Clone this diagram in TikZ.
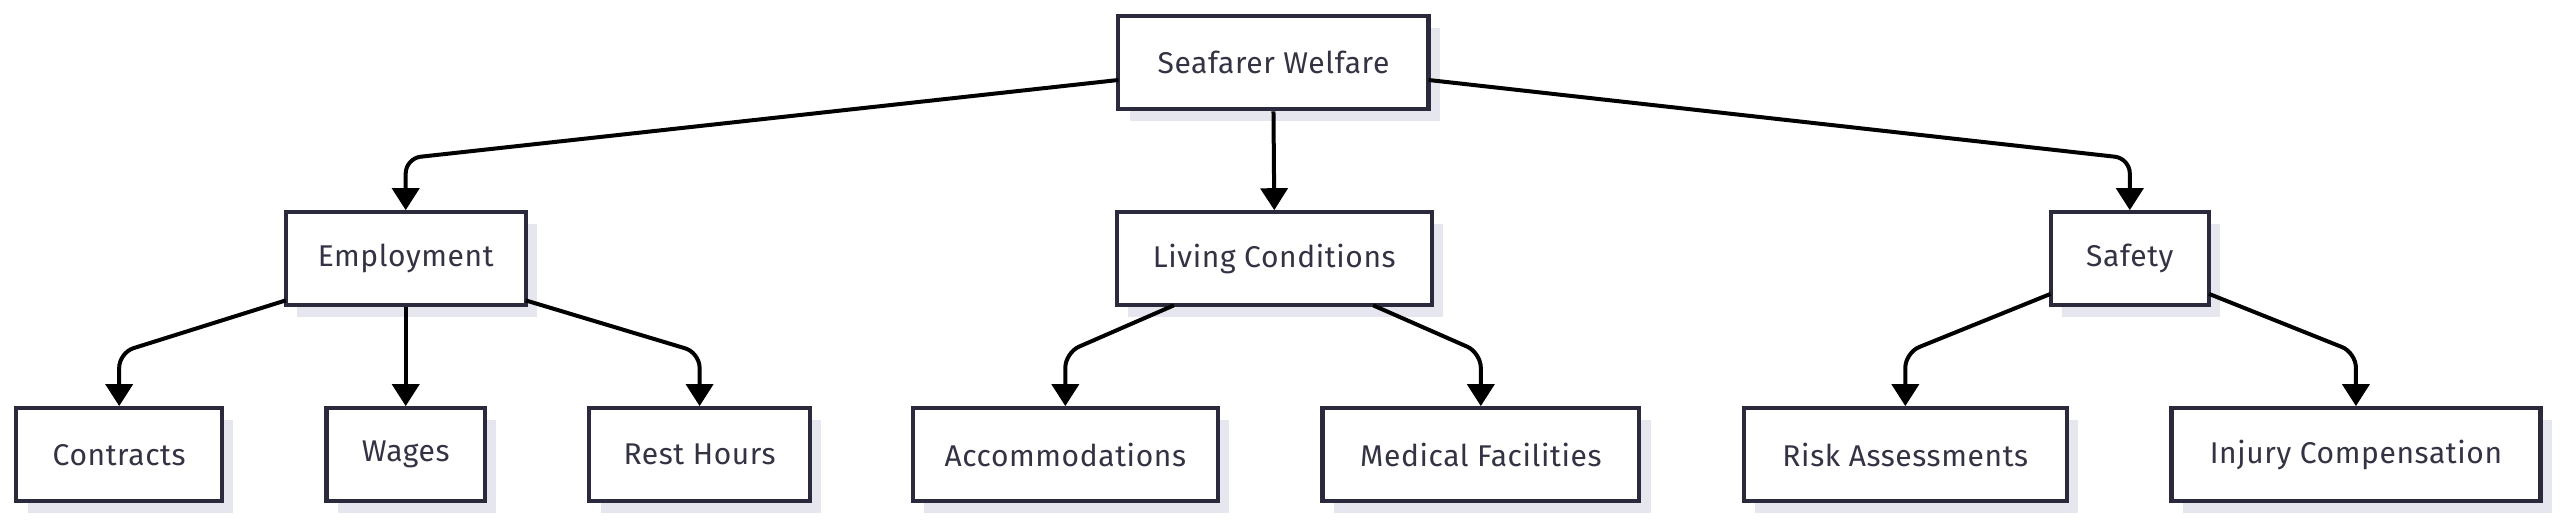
\documentclass[tikz,border=0pt]{standalone}
\usepackage{fontspec}
\setmainfont{Fira Sans}
\usetikzlibrary{arrows.meta}
\definecolor{bordc}{HTML}{2B2A3C}
\definecolor{txtc}{HTML}{333344}
\definecolor{shad}{HTML}{E6E6EF}
\begin{document}
\begin{tikzpicture}[x=1.633pt,y=-1.633pt,
  box/.style={draw=bordc,line width=4.2pt,fill=white,minimum height=93pt,inner xsep=0pt,
    text=txtc,font=\fontsize{30}{36}\selectfont\addfontfeatures{LetterSpace=2}},
  conn/.style={line width=4pt,black,rounded corners=15pt,-{Triangle[length=22pt,width=27pt]}}]
\useasboundingbox (0,0) rectangle (1568,318);
\newcommand{\bx}[5]{% name, x1, x2, ytop, text
  \fill[shad] (#2+7,#4+7) rectangle (#3+7,#4+64);
  \node[box,minimum width={(#3-#2)*1.633pt}] (#1) at ({(#2+#3)/2},#4+28.5) {#5};}
\bx{root}{685}{875}{10}{Seafarer Welfare}
\bx{emp}{175}{322}{130}{Employment}
\bx{liv}{684}{877}{130}{Living Conditions}
\bx{saf}{1256}{1353}{130}{Safety}
\bx{con}{10}{136}{250}{Contracts}
\bx{wag}{200}{297}{250}{Wages}
\bx{rest}{361}{496}{250}{Rest Hours}
\bx{acc}{559}{746}{250}{Accommodations}
\bx{med}{810}{1004}{250}{Medical Facilities}
\bx{risk}{1068}{1266}{250}{Risk Assessments}
\bx{inj}{1330}{1556}{250}{Injury Compensation}
\coordinate (r1) at (685,49);
\coordinate (r2) at (875,49);
\draw[conn] (r1) -- (248.5,97) -- (emp.north);
\draw[conn] (root.south) -- (liv.north);
\draw[conn] (r2) -- (1304.5,97) -- (saf.north);
\coordinate (e1) at (175,184);
\coordinate (e2) at (322,184);
\draw[conn] (e1) -- (73,216) -- (con.north);
\draw[conn] (emp.south) -- (wag.north);
\draw[conn] (e2) -- (428.5,216) -- (rest.north);
\coordinate (l1) at (719,187);
\coordinate (l2) at (841,187);
\draw[conn] (l1) -- (652.5,216) -- (acc.north);
\draw[conn] (l2) -- (907,216) -- (med.north);
\coordinate (s1) at (1256,180);
\coordinate (s2) at (1353,180);
\draw[conn] (s1) -- (1167,216) -- (risk.north);
\draw[conn] (s2) -- (1443,216) -- (inj.north);
\end{tikzpicture}
\end{document}
